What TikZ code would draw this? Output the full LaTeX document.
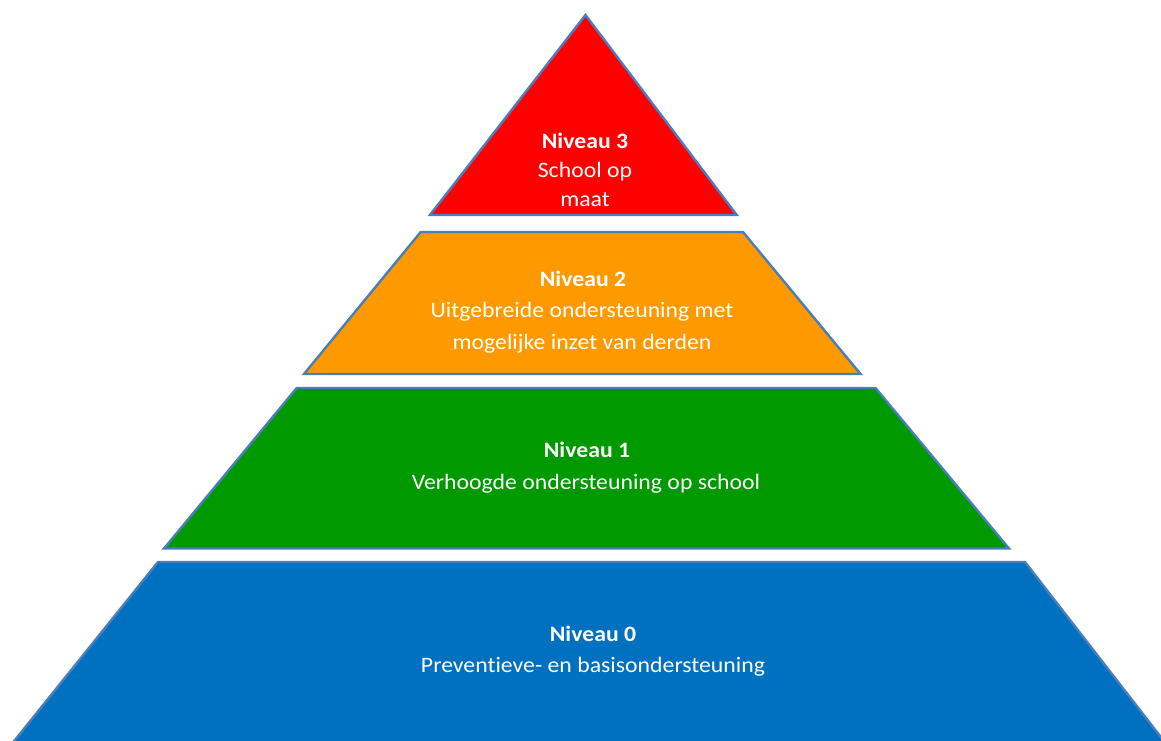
\documentclass[tikz,border=0pt]{standalone}
\usepackage{fontspec}
\setmainfont{Carlito}[FakeStretch=1.08, Ligatures=NoCommon]
\definecolor{lvred}{HTML}{FF0000}
\definecolor{lvorange}{HTML}{FF9900}
\definecolor{lvgreen}{HTML}{009900}
\definecolor{lvblue}{HTML}{0070C0}
\definecolor{edge}{HTML}{4A7EBB}
\tikzset{
  layer/.style={draw=edge, line width=2.4pt, line join=miter},
  lbl/.style={text=white, anchor=base, inner sep=0pt, font=\fontsize{22}{26}\selectfont},
  ttl/.style={lbl, font=\fontsize{22}{26}\selectfont\bfseries},
}
\begin{document}
\begin{tikzpicture}[x=1pt,y=-1pt]
\useasboundingbox (0,0) rectangle (1161,740);
% layers
\path[layer, fill=lvred] (585.5,15) -- (736.7,215) -- (430,215) -- cycle;
\path[layer, fill=lvorange] (420.7,232) -- (743,232) -- (860.5,374) -- (304,374) -- cycle;
\path[layer, fill=lvgreen] (296.7,388) -- (875.5,388) -- (1009,548.5) -- (164,548.5) -- cycle;
\path[layer, fill=lvblue] (158,562) -- (1025,562) -- (1167,745) -- (11,745) -- cycle;
% texts
\node[ttl] (n3) at (585,148) {Niveau 3};
\node[lbl] (n3a) at (585,177.5) {School op};
\node[lbl] (n3b) at (585,206) {maat};
\node[ttl] (n2) at (583,286) {Niveau 2};
\node[lbl] (n2a) at (582,317.5) {Uitgebreide ondersteuning met};
\node[lbl] (n2b) at (582,349) {mogelijke inzet van derden};
\node[ttl] (n1) at (587,457.5) {Niveau 1};
\node[lbl] (n1a) at (586,489) {Verhoogde ondersteuning op school};
\node[ttl] (n0) at (593,641) {Niveau 0};
\node[lbl] (n0a) at (593,672.5) {Preventieve- en basisondersteuning};
\end{tikzpicture}
\end{document}
